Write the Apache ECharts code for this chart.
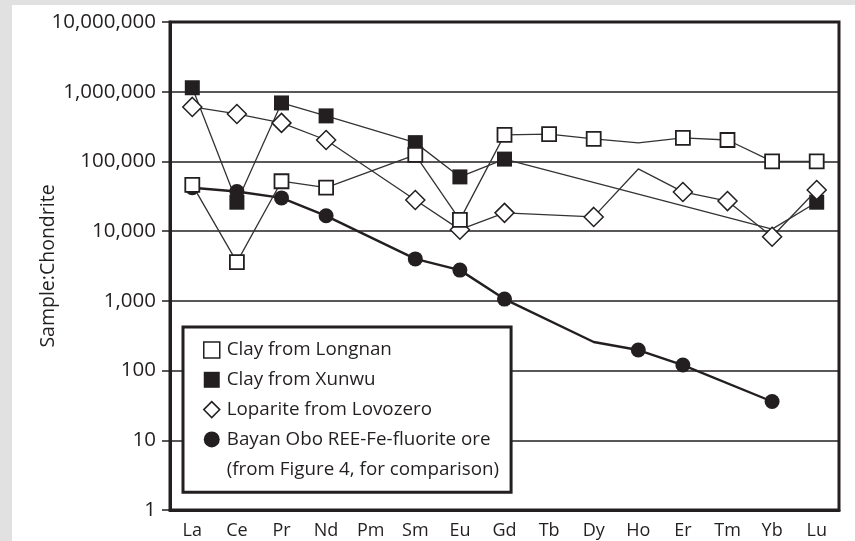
<!DOCTYPE html>
<html>
<head>
<meta charset="utf-8">
<script src="https://cdn.jsdelivr.net/npm/echarts@6/dist/echarts.min.js"></script>
<style>
  html, body { margin: 0; padding: 0; background: #e1e1e1; width: 855px; height: 541px; overflow: hidden; }
  #chart { position: absolute; left: 12px; top: 5px; width: 843px; height: 536px; background: #ffffff; }
</style>
</head>
<body>
<div id="chart"></div>
<script>
// Categories (rare earth elements)
const categories = ['La','Ce','Pr','Nd','Pm','Sm','Eu','Gd','Tb','Dy','Ho','Er','Tm','Yb','Lu'];

// Sample:Chondrite ratios (null = no value)
const clayLongnan   = [46000, 3600, 52000, 42000, null, 124000, 14500, 240000, 246000, 210000, 185000, 218000, 203000, 100000, 100000];
const clayXunwu     = [1140000, 26000, 690000, 450000, null, 186000, 60000, 108000, null, null, null, null, null, 10700, 26000];
const loparite      = [605000, 480000, 357000, 203000, null, 28000, 10500, 18300, null, 16000, 78000, 36500, 27000, 8300, 39000];
const bayanObo      = [42000, 37000, 30000, 16600, null, 4000, 2760, 1060, null, 257, 197, 120, null, 36, null];

// Points drawn in the figure as line vertices without a marker
const longnanUnmarked = ['Ho'];
const xunwuUnmarked   = ['Yb'];
const loparUnmarked   = ['Ho'];
const bayanUnmarked   = ['Dy'];

// Y tick values
const yTicks = [1, 10, 100, 1000, 10000, 100000, 1000000, 10000000];

const seriesNames = ['Clay from Longnan', 'Clay from Xunwu', 'Loparite from Lovozero',
                     'Bayan Obo REE-Fe-fluorite ore', '(from Figure 4, for comparison)'];

const INK = '#231f20';
const FONT = '"Open Sans", "Noto Sans", sans-serif';

function build(values, unmarked) {
  return values.map((v, i) => {
    if (v === null) return null;
    if (unmarked.indexOf(categories[i]) >= 0) return { value: v, symbol: 'none' };
    return v;
  });
}
function fmt(v) { return String(Math.round(v)).replace(/\B(?=(\d{3})+(?!\d))/g, ','); }

const chart = echarts.init(document.getElementById('chart'), null, { renderer: 'canvas' });

chart.setOption({
  animation: false,
  backgroundColor: '#ffffff',
  textStyle: { fontFamily: FONT, color: INK },
  grid: {
    left: 158, top: 17, right: 16, bottom: 31,
    show: true, borderColor: INK, borderWidth: 3, backgroundColor: 'transparent'
  },
  legend: {
    orient: 'vertical',
    left: 171, top: 322,
    padding: [13, 12, 13, 20],
    itemWidth: 16, itemHeight: 16, itemGap: 9.8,
    backgroundColor: '#ffffff',
    borderColor: INK, borderWidth: 3, borderRadius: 0,
    selectedMode: false,
    z: 10,
    textStyle: { fontFamily: FONT, fontSize: 18.8, color: INK, lineHeight: 20, padding: [0, 0, 0, 2] },
    data: [
      { name: seriesNames[0], icon: 'rect', itemStyle: { color: '#fff', borderColor: INK, borderWidth: 1.5 } },
      { name: seriesNames[1], icon: 'rect', itemStyle: { color: INK, borderColor: INK, borderWidth: 0 } },
      { name: seriesNames[2], icon: 'diamond', itemStyle: { color: '#fff', borderColor: INK, borderWidth: 1.5 } },
      { name: seriesNames[3], icon: 'circle', itemStyle: { color: INK, borderColor: INK, borderWidth: 0 } },
      { name: seriesNames[4], icon: 'none', itemStyle: { color: 'transparent', borderWidth: 0 } }
    ]
  },
  xAxis: {
    type: 'category',
    data: categories,
    boundaryGap: true,
    axisLine: { show: true, lineStyle: { color: INK, width: 3 } },
    axisTick: { show: false },
    axisLabel: { fontFamily: FONT, fontSize: 18, color: INK, margin: 12 },
    splitLine: { show: false }
  },
  yAxis: {
    type: 'log',
    logBase: 10,
    min: 1,
    max: 10000000,
    name: 'Sample:Chondrite',
    nameLocation: 'middle',
    nameGap: 112,
    nameMoveOverlap: false,
    nameTextStyle: { fontFamily: FONT, fontSize: 19.5, color: INK },
    axisLine: { show: true, lineStyle: { color: INK, width: 3 } },
    axisTick: { show: true, inside: false, length: 8, lineStyle: { color: INK, width: 1.5 } },
    axisLabel: {
      fontFamily: FONT, fontSize: 20.5, color: INK, margin: 14,
      formatter: v => (yTicks.indexOf(Math.round(v)) >= 0 ? fmt(v) : '')
    },
    splitLine: { show: true, lineStyle: { color: INK, width: 1.5 } }
  },
  series: [
    {
      name: seriesNames[1], type: 'line', connectNulls: true,
      data: build(clayXunwu, xunwuUnmarked),
      symbol: 'rect', symbolSize: 15,
      lineStyle: { color: '#333', width: 1.3 },
      itemStyle: { color: INK, borderColor: INK, borderWidth: 0 },
      z: 2
    },
    {
      name: seriesNames[3], type: 'line', connectNulls: true,
      data: build(bayanObo, bayanUnmarked),
      symbol: 'circle', symbolSize: 15,
      lineStyle: { color: INK, width: 2.4 },
      itemStyle: { color: INK, borderColor: INK, borderWidth: 0 },
      z: 3
    },
    {
      name: seriesNames[2], type: 'line', connectNulls: true,
      data: build(loparite, loparUnmarked),
      symbol: 'diamond', symbolSize: 19,
      lineStyle: { color: '#333', width: 1.3 },
      itemStyle: { color: '#fff', borderColor: INK, borderWidth: 1.5 },
      z: 4
    },
    {
      name: seriesNames[0], type: 'line', connectNulls: true,
      data: build(clayLongnan, longnanUnmarked),
      symbol: 'rect', symbolSize: 14,
      lineStyle: { color: '#333', width: 1.3 },
      itemStyle: { color: '#fff', borderColor: INK, borderWidth: 1.8 },
      z: 5
    },
    {
      name: seriesNames[4], type: 'line', data: [], symbol: 'none',
      lineStyle: { width: 0 }
    }
  ]
});
</script>
</body>
</html>
